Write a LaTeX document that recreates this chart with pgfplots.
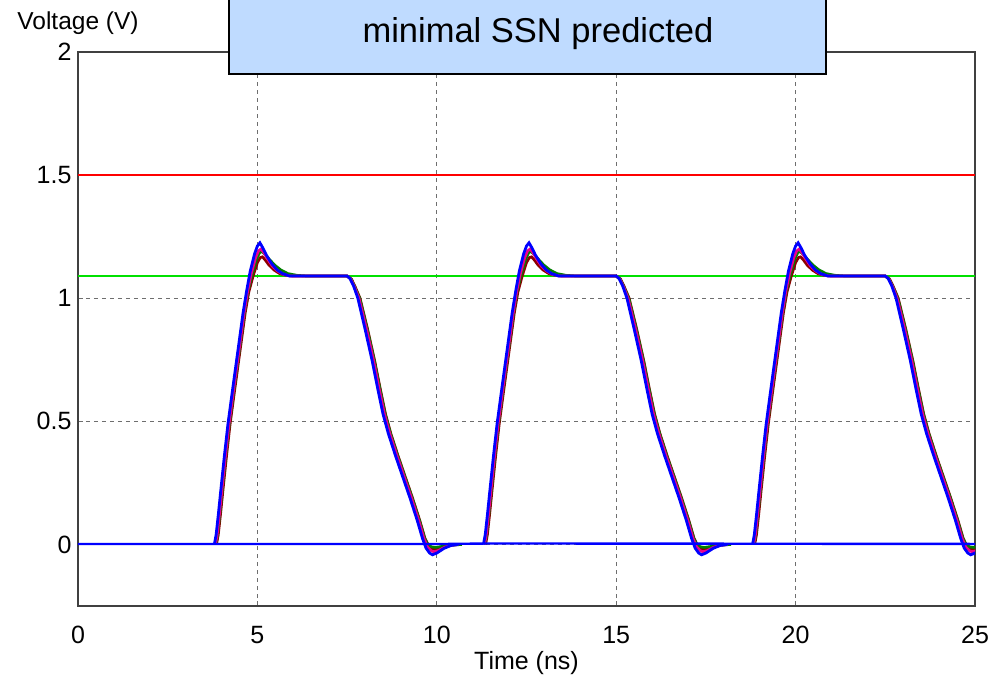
\documentclass[border=0pt]{standalone}
\usepackage{fontspec}
\setmainfont{Liberation Sans}
\usepackage{pgfplots}
\pgfplotsset{compat=1.18}
\usepackage{pgfplotstable}
\definecolor{boxblue}{RGB}{191,219,255}
\definecolor{wdarkred}{RGB}{140,0,0}
\definecolor{wgreen}{RGB}{0,128,0}
\definecolor{hgreen}{RGB}{0,225,0}
\definecolor{gridgray}{RGB}{110,110,110}

\pgfplotstableread{
t y
3.80 0
3.85 0.04
3.91 0.12
3.98 0.22
4.08 0.36
4.18 0.49
4.30 0.62
4.45 0.78
4.60 0.94
4.70 1.03
4.80 1.11
4.92 1.18
5.00 1.212
5.07 1.225
5.15 1.205
5.25 1.175
5.40 1.14
5.55 1.115
5.70 1.10
5.90 1.09
7.50 1.09
7.58 1.08
7.68 1.05
7.80 1.00
8.00 0.875
8.20 0.745
8.35 0.635
8.50 0.53
8.65 0.45
8.85 0.36
9.05 0.275
9.25 0.19
9.45 0.10
9.60 0.025
9.70 -0.015
9.80 -0.035
9.88 -0.042
10.00 -0.035
10.20 -0.016
10.40 -0.004
10.60 0
}\bluewave

\pgfplotstableread{
t y
3.83 0
3.88 0.04
3.94 0.12
4.01 0.22
4.11 0.36
4.21 0.49
4.33 0.62
4.48 0.78
4.63 0.94
4.73 1.03
4.83 1.10
4.95 1.165
5.03 1.192
5.10 1.200
5.18 1.185
5.28 1.16
5.42 1.13
5.57 1.11
5.72 1.097
5.92 1.09
7.50 1.09
7.60 1.078
7.70 1.048
7.83 1.00
8.04 0.875
8.24 0.745
8.39 0.635
8.54 0.53
8.69 0.45
8.89 0.36
9.09 0.275
9.29 0.19
9.49 0.10
9.64 0.025
9.74 -0.01
9.84 -0.025
9.92 -0.03
10.04 -0.025
10.22 -0.011
10.42 -0.003
10.60 0
}\magentawave

\pgfplotstableread{
t y
3.86 0
3.91 0.04
3.97 0.12
4.04 0.22
4.14 0.36
4.24 0.49
4.36 0.62
4.51 0.78
4.66 0.94
4.76 1.025
4.88 1.09
5.00 1.145
5.08 1.165
5.14 1.168
5.22 1.155
5.32 1.135
5.46 1.115
5.62 1.10
5.80 1.093
6.00 1.09
7.50 1.09
7.62 1.078
7.72 1.048
7.86 1.00
8.07 0.875
8.27 0.745
8.42 0.635
8.57 0.53
8.72 0.45
8.92 0.36
9.12 0.275
9.32 0.19
9.52 0.10
9.67 0.025
9.77 -0.005
9.87 -0.017
9.95 -0.02
10.07 -0.016
10.25 -0.007
10.45 -0.002
10.65 0
}\redwave

\pgfplotstableread{
t y
3.84 0
3.89 0.04
3.95 0.12
4.02 0.22
4.12 0.36
4.22 0.49
4.34 0.62
4.49 0.78
4.64 0.94
4.74 1.03
4.86 1.10
4.98 1.16
5.06 1.185
5.12 1.19
5.20 1.18
5.32 1.16
5.48 1.135
5.65 1.115
5.85 1.10
6.10 1.093
6.40 1.09
7.50 1.09
7.61 1.078
7.71 1.048
7.85 1.00
8.06 0.875
8.26 0.745
8.41 0.635
8.56 0.53
8.71 0.45
8.91 0.36
9.11 0.275
9.31 0.19
9.51 0.10
9.66 0.025
9.76 -0.004
9.86 -0.01
9.96 -0.012
10.10 -0.009
10.30 -0.004
10.70 0
}\greenwave

\begin{document}
\begin{tikzpicture}
\useasboundingbox (-78pt,-75pt) rectangle (915pt,606pt);
\begin{axis}[
  name=ax,
  at={(0pt,0pt)}, anchor=south west,
  width=897pt, height=554pt, scale only axis,
  xmin=0, xmax=25, ymin=-0.25, ymax=2,
  xtick={0,5,10,15,20,25},
  ytick={0,0.5,1,1.5,2},
  tick align=inside,
  xtick pos=bottom, ytick pos=left,
  major tick length=5pt,
  tick style={gridgray, line width=0.8pt},
  grid=major,
  major grid style={gridgray, line width=1pt, dash pattern=on 4pt off 4pt},
  axis line style={black!75, line width=1.2pt},
  /pgf/number format/assume math mode=true,
  ticklabel style={font=\fontsize{25}{30}\selectfont},
  xticklabel style={yshift=-17pt},
  yticklabel style={xshift=-3pt},
  clip=true,
]
\addplot[hgreen, line width=1.8pt] coordinates {(0,1.09) (25,1.09)};
\addplot[red, line width=1.8pt] coordinates {(0,1.5) (25,1.5)};

\addplot[wdarkred, line width=2.7pt] table[x=t, y=y] {\redwave};
\addplot[wdarkred, line width=2.7pt] table[x expr=\thisrow{t}+7.5, y=y] {\redwave};
\addplot[wdarkred, line width=2.7pt] table[x expr=\thisrow{t}+15, y=y] {\redwave};

\addplot[wgreen, line width=2.7pt] table[x=t, y=y] {\greenwave};
\addplot[wgreen, line width=2.7pt] table[x expr=\thisrow{t}+7.5, y=y] {\greenwave};
\addplot[wgreen, line width=2.7pt] table[x expr=\thisrow{t}+15, y=y] {\greenwave};

\addplot[magenta, line width=2.7pt] table[x=t, y=y] {\magentawave};
\addplot[magenta, line width=2.7pt] table[x expr=\thisrow{t}+7.5, y=y] {\magentawave};
\addplot[magenta, line width=2.7pt] table[x expr=\thisrow{t}+15, y=y] {\magentawave};

\addplot[blue, line width=2.8pt] table[x=t, y=y] {\bluewave};
\addplot[blue, line width=2.8pt] table[x expr=\thisrow{t}+7.5, y=y] {\bluewave};
\addplot[blue, line width=2.8pt] table[x expr=\thisrow{t}+15, y=y] {\bluewave};

\addplot[blue, line width=2.4pt] coordinates {(0,0.002) (10.3,0.002) (11.5,0.004) (25,0.002)};
\end{axis}
\node[font=\fontsize{24.5}{29}\selectfont] at ([yshift=29pt]ax.north west) {Voltage (V)};
\node[font=\fontsize{25}{30}\selectfont] at ([yshift=-57pt]ax.south) {Time (ns)};
\filldraw[fill=boxblue, draw=black, line width=2pt] (151pt,532pt) rectangle (748pt,620pt);
\node[font=\fontsize{34.5}{40}\selectfont] at (460pt,572pt) {minimal SSN predicted};
\end{tikzpicture}
\end{document}
